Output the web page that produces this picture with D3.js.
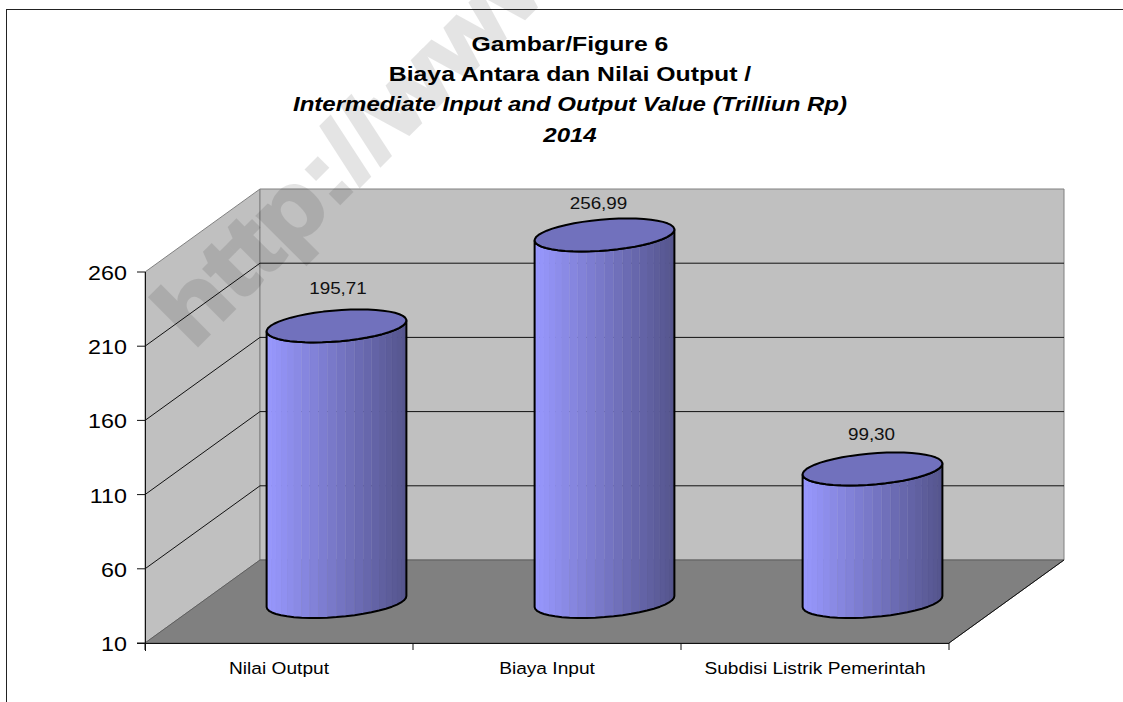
<!DOCTYPE html>
<html><head><meta charset="utf-8">
<script src="https://cdnjs.cloudflare.com/ajax/libs/d3/7.8.5/d3.min.js"></script>
<style>html,body{margin:0;padding:0;background:#fff}svg{display:block}text{font-family:"Liberation Sans",Arial,sans-serif}</style>
</head><body><svg id="c" width="1123" height="702"></svg>
<script>
const categories = ["Nilai Output","Biaya Input","Subdisi Listrik Pemerintah"];
const values = [195.71,256.99,99.30];
const valueLabels = ["195,71","256,99","99,30"];
const yTicks = [10,60,110,160,210,260];
const gridTicks = [60,110,160,210];
const titleLines = [
 {t:"Gambar/Figure 6",italic:false},
 {t:"Biaya Antara dan Nilai Output /",italic:false},
 {t:"Intermediate Input and Output Value (Trilliun Rp)",italic:true},
 {t:"2014",italic:true}];
const watermark = "http://www.";

const svg = d3.select("#c");
const W=1123,H=702;
const x0=145,x1=949,yBase=643,yTop=272,dx=115,dy=-83;
const y = d3.scaleLinear().domain([10,260]).range([yBase,yTop]);
const x = d3.scaleBand().domain(categories).range([x0,x1]);
const line = d3.line();
function label(parent,px,py,size,anchor,str,sx){
  return parent.append("text").attr("transform",`translate(${px},${py}) scale(${sx},1)`)
    .attr("text-anchor",anchor).attr("font-size",size).attr("fill","#000").text(str);
}

svg.append("rect").attr("x",6.5).attr("y",9.5).attr("width",W+20).attr("height",H+20)
  .attr("fill","#fff").attr("stroke","#222").attr("stroke-width",1);

const g = svg.append("g");
g.append("path").attr("d",line([[x0,y(10)],[x0+dx,y(10)+dy],[x0+dx,y(260)+dy],[x0,y(260)]])+"Z")
 .attr("fill","#c0c0c0").attr("stroke","#808080");
g.append("path").attr("d",line([[x0+dx,y(10)+dy],[x1+dx,y(10)+dy],[x1+dx,y(260)+dy],[x0+dx,y(260)+dy]])+"Z")
 .attr("fill","#c0c0c0").attr("stroke","#808080");
g.append("path").attr("d",line([[x0,y(10)],[x0+dx,y(10)+dy],[x1+dx,y(10)+dy],[x1,y(10)]])+"Z")
 .attr("fill","#808080").attr("stroke","#5f5f5f");
gridTicks.forEach(v=>{
  g.append("path").attr("fill","none").attr("stroke","#111").attr("stroke-width",1)
   .attr("d",line([[x0,y(v)],[x0+dx,y(v)+dy],[x1+dx,y(v)+dy]]));
});
g.append("path").attr("fill","none").attr("stroke","#111").attr("d",line([[x0+.5,y(260)],[x0+.5,yBase+8]]));
g.append("path").attr("fill","none").attr("stroke","#111").attr("d",line([[x0-8,yBase+.5],[x1,yBase+.5]]));
g.append("path").attr("fill","none").attr("stroke","#111").attr("d",line([[x1,yBase],[x1+dx,yBase+dy]]));
yTicks.forEach(v=>{
  g.append("line").attr("x1",x0-8).attr("x2",x0).attr("y1",y(v)).attr("y2",y(v)).attr("stroke","#111");
  label(g,x0-18,y(v)+8,21,"end",v,1.11);
});
[0,1,2,3].forEach(i=>{
  const xx = x0+i*x.bandwidth();
  g.append("line").attr("x1",xx).attr("x2",xx).attr("y1",yBase).attr("y2",yBase+7).attr("stroke","#111");
});
categories.forEach(c=>{
  label(g,x(c)+x.bandwidth()/2,674,16.5,"middle",c,1.16);
});

// cylinders: faceted like the source renderer
const P=66,Q=23,R=16.5,N=24;
const colL=d3.rgb(153,153,255), colR=d3.rgb(84,84,140);
const shade=d3.scaleLinear().domain([-1,1]).range([colL,colR]).interpolate(d3.interpolateRgb);
const labelNudge=[[1.5,-31.5],[-6,-25.5],[-1,-29]];
function pt(cx,cy,t){return [cx+P*Math.cos(t)-Q*Math.sin(t), cy+R*Math.sin(t)];}
categories.forEach((c,i)=>{
  const cx = x(c)+x.bandwidth()/2+dx/2;
  const yb = y(10)+dy/2, yt = y(values[i])+dy/2;
  const gc = svg.append("g");
  const tR = -Math.atan2(Q,P), tL = tR+Math.PI;
  const ang = d3.range(N+1).map(k=>tR+(tL-tR)*k/N);
  for(let k=0;k<N;k++){
    const a=ang[k],b=ang[k+1];
    const xa=pt(cx,yb,a), xb=pt(cx,yb,b), ta=pt(cx,yt,a), tb=pt(cx,yt,b);
    const f=((xa[0]+xb[0])/2-cx)/Math.hypot(P,Q);
    gc.append("path").attr("d",line([ta,tb,xb,xa])+"Z").attr("fill",shade(f)).attr("stroke",shade(f)).attr("stroke-width",.3);
  }
  const body=[...ang.map(t=>pt(cx,yb,t)),...ang.slice().reverse().map(t=>pt(cx,yt,t))];
  gc.append("path").attr("d",line(body)+"Z").attr("fill","none").attr("stroke","#000").attr("stroke-width",2).attr("stroke-linejoin","round");
  const ring=d3.range(48).map(k=>pt(cx,yt,k/48*2*Math.PI));
  gc.append("path").attr("d",line(ring)+"Z").attr("fill","#7171bd").attr("stroke","#000").attr("stroke-width",2).attr("stroke-linejoin","round");
  label(gc,cx+labelNudge[i][0],yt+labelNudge[i][1],17,"middle",valueLabels[i],1.11).attr("fill","#111");
});

// title
titleLines.forEach((l,i)=>{
  label(svg,570,51+i*30.2,21,"middle",l.t,l.italic?1.145:1.18)
   .attr("font-weight","bold").attr("font-style",l.italic?"italic":"normal");
});

// watermark
svg.append("text").attr("transform","translate(193,350) rotate(-45) scale(1.13,1)")
 .attr("font-size",93).attr("font-weight","bold").attr("fill","#000").attr("stroke","#000").attr("stroke-width",3.5)
 .attr("opacity",.1).text(watermark);
</script></body></html>
